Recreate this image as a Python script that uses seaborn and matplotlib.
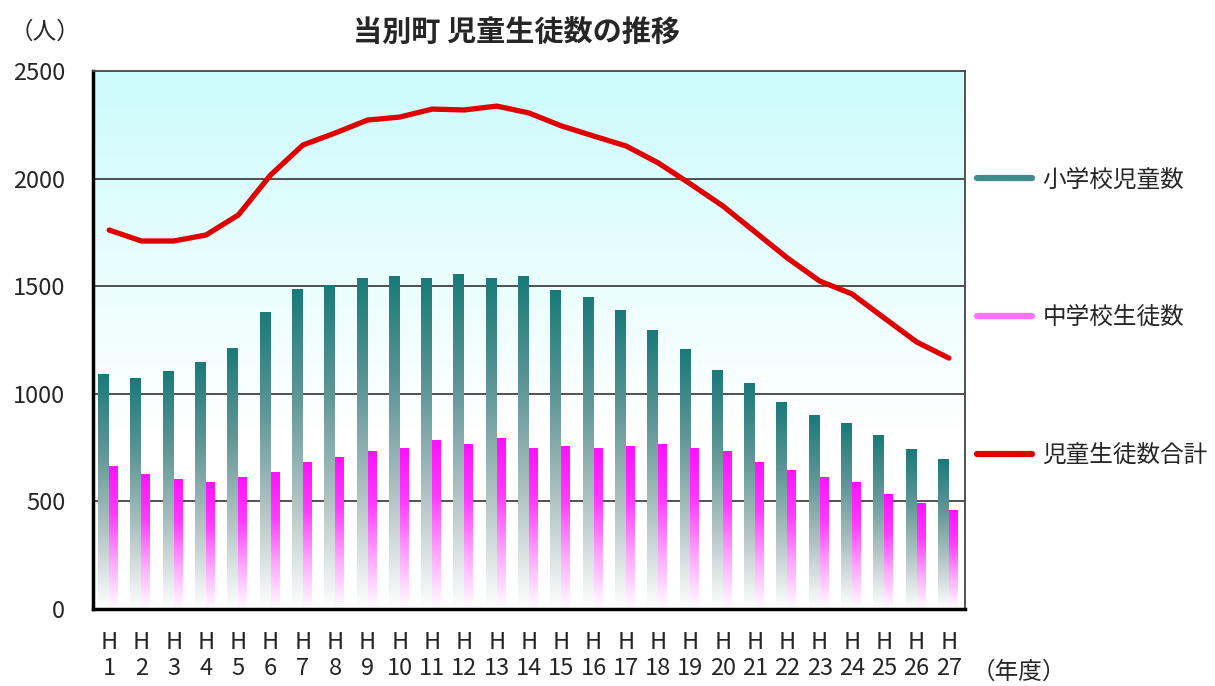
import numpy as np
import pandas as pd
import seaborn as sns
import matplotlib.pyplot as plt
from matplotlib.colors import LinearSegmentedColormap
from matplotlib.lines import Line2D

# data
years = [f"H\n{i}" for i in range(1, 28)]
elementary = [1091, 1073, 1103, 1145, 1210, 1377, 1484, 1501, 1538, 1544,
              1538, 1555, 1538, 1544, 1478, 1448, 1388, 1293, 1204, 1107,
              1049, 959, 900, 864, 804, 739, 697]
junior = [661, 626, 603, 590, 609, 632, 680, 703, 734, 745,
          781, 764, 793, 745, 757, 745, 757, 764, 745, 734,
          680, 645, 609, 590, 531, 489, 460]
total = [1761, 1710, 1710, 1738, 1831, 2017, 2156, 2212, 2272, 2286,
         2323, 2319, 2337, 2305, 2245, 2198, 2152, 2073, 1975, 1873,
         1752, 1631, 1524, 1464, 1352, 1241, 1166]
labels = ["小学校児童数", "中学校生徒数", "児童生徒数合計"]

sns.set_style("white")
plt.rcParams['font.family'] = ['Noto Sans CJK JP', 'DejaVu Sans']

df = pd.DataFrame({
    'year': years * 2,
    'count': elementary + junior,
    'type': [labels[0]] * 27 + [labels[1]] * 27,
})

fig = plt.figure(figsize=(12.15, 6.86), dpi=100)
ax = fig.add_axes([93 / 1215, 1 - 609 / 686, (965 - 93) / 1215, (609 - 71) / 686])

# background gradient (light cyan -> white)
bg = LinearSegmentedColormap.from_list('bg', ['#ffffff', '#ffffff', '#e6fdfd', '#ccfbfc'])
ax.imshow(np.linspace(0, 1, 256).reshape(-1, 1), cmap=bg, origin='lower',
          extent=[0, 1, 0, 1], transform=ax.transAxes, aspect='auto', zorder=0)

sns.barplot(data=df, x='year', y='count', hue='type', width=0.68, errorbar=None,
            palette=['#1a7a7a', '#ff00ff'], legend=False, ax=ax, zorder=3)

# gradient fill on each bar
cmaps = [LinearSegmentedColormap.from_list('teal', ['#ffffff', '#b3c4c4', '#5f9696', '#1a7a7a']),
         LinearSegmentedColormap.from_list('mag', ['#ffffff', '#ffa6ff', '#ff3cff', '#ff10ff'])]
grad = np.linspace(0, 1, 256).reshape(-1, 1)
for k, cont in enumerate(ax.containers):
    for p in cont.patches:
        x0, h = p.get_x(), p.get_height()
        w = 0.34 if k == 0 else 0.25
        ax.imshow(grad, cmap=cmaps[k], origin='lower', extent=[x0, x0 + w, 0, h],
                  aspect='auto', zorder=3)
        p.set_visible(False)

sns.lineplot(x=np.arange(27), y=total, color='#e00000', lw=3.8, ax=ax, zorder=5)

ax.set_xlim(-0.5, 26.5)
ax.set_ylim(0, 2500)
ax.set_yticks(range(0, 2501, 500))
for v in range(500, 2500, 500):
    ax.axhline(v, color='#333333', lw=1.2, zorder=1)

ax.set_xlabel('')
ax.set_ylabel('')
ax.tick_params(axis='x', length=0, pad=16, labelsize=17)
ax.tick_params(axis='y', length=0, pad=20, labelsize=17)
for t in ax.get_xticklabels():
    t.set_linespacing(1.18)
for s in ['left', 'bottom']:
    ax.spines[s].set_color('black')
    ax.spines[s].set_linewidth(2.5)
for s in ['top', 'right']:
    ax.spines[s].set_color('#444444')
    ax.spines[s].set_linewidth(1.3)
for s in ax.spines.values():
    s.set_zorder(6)

fig.text(0.425, 0.953, '当別町 児童生徒数の推移', fontsize=21, fontweight='bold',
         ha='center', va='center')
fig.text(0.008, 0.953, '（人）', fontsize=17, va='center')
fig.text(0.800, 0.02, '（年度）', fontsize=17, va='center')

handles = [Line2D([], [], color='#3f8a8a', lw=4.5),
           Line2D([], [], color='#ff70ff', lw=4.5),
           Line2D([], [], color='#e00000', lw=4.5)]
fig.legend(handles, labels, loc='upper left', bbox_to_anchor=(0.787, 0.785),
           frameon=False, fontsize=17, labelspacing=4.85, handlelength=2.3,
           handletextpad=0.45)

fig.savefig('out.png', dpi=100)
